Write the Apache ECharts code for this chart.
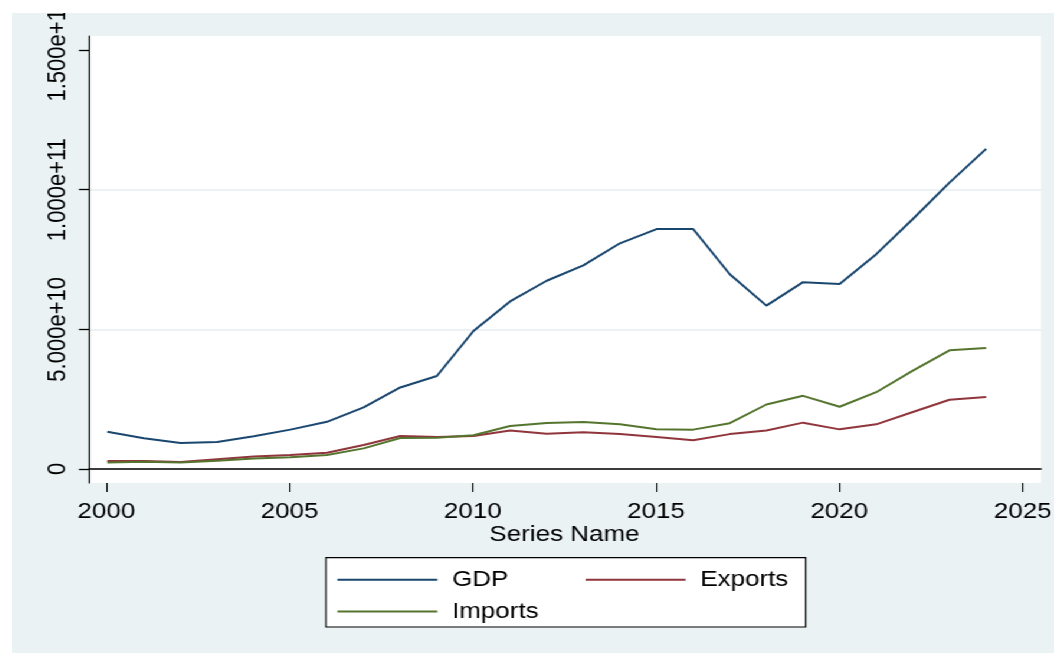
<!DOCTYPE html>
<html>
<head>
<meta charset="utf-8">
<script src="https://cdn.jsdelivr.net/npm/echarts@6/dist/echarts.min.js"></script>
<style>
  html, body { margin: 0; padding: 0; background: #ffffff; width: 1054px; height: 653px; overflow: hidden; }
  #chart { position: absolute; left: 12px; top: 13px; width: 883px; height: 640px;
           transform: scaleX(1.18007); transform-origin: 0 0; background: #EAF2F3; }
</style>
</head>
<body>
<div id="chart"></div>
<script>
// ---- data ----
var years = [2000, 2001, 2002, 2003, 2004, 2005, 2006, 2007, 2008, 2009, 2010, 2011, 2012,
             2013, 2014, 2015, 2016, 2017, 2018, 2019, 2020, 2021, 2022, 2023, 2024];
var gdp = [1.335e10, 1.10e10, 0.93e10, 0.97e10, 1.17e10, 1.41e10, 1.69e10, 2.21e10, 2.92e10, 3.33e10,
           4.94e10, 6.00e10, 6.74e10, 7.29e10, 8.08e10, 8.59e10, 8.59e10, 6.97e10, 5.85e10, 6.69e10,
           6.62e10, 7.69e10, 8.95e10, 1.025e11, 1.146e11];
var exportsV = [0.29e10, 0.29e10, 0.25e10, 0.35e10, 0.45e10, 0.50e10, 0.58e10, 0.86e10, 1.18e10, 1.15e10,
                1.18e10, 1.38e10, 1.26e10, 1.32e10, 1.25e10, 1.15e10, 1.03e10, 1.25e10, 1.38e10, 1.66e10,
                1.42e10, 1.60e10, 2.04e10, 2.48e10, 2.58e10];
var importsV = [0.23e10, 0.26e10, 0.23e10, 0.30e10, 0.38e10, 0.42e10, 0.50e10, 0.74e10, 1.11e10, 1.12e10,
                1.21e10, 1.54e10, 1.65e10, 1.68e10, 1.60e10, 1.42e10, 1.41e10, 1.64e10, 2.31e10, 2.62e10,
                2.23e10, 2.75e10, 3.52e10, 4.25e10, 4.33e10];
var seriesNames = ['GDP', 'Exports', 'Imports'];
var yTickValues = [0, 5e10, 1e11, 1.5e11];
var yTickLabels = ['0', '5.000e+10', '1.000e+11', '1.500e+11'];
var xTickValues = [2000, 2005, 2010, 2015, 2020, 2025];
var xAxisTitle = 'Series Name';

function pairs(vals) { return years.map(function (y, i) { return [y, vals[i]]; }); }

var FONT = '"Liberation Sans", Arial, Helvetica, sans-serif';
var colors = ['#1A476F', '#90353B', '#55752F'];

var chart = echarts.init(document.getElementById('chart'), null, { renderer: 'canvas' });
var option = {
  animation: false,
  backgroundColor: 'transparent',
  textStyle: { fontFamily: FONT },
  grid: [
    // data grid (plot region)
    { left: 65.25, right: 11, top: 23, bottom: 170, show: true, backgroundColor: '#ffffff', borderWidth: 0,
      containLabel: false, outerBoundsMode: 'none' },
    // y tick grid
    { left: 65.25, right: 11, top: 37, bottom: 184, show: false, containLabel: false, outerBoundsMode: 'none' },
    // x tick grid
    { left: 79.9, right: 26.6, top: 23, bottom: 170, show: false, containLabel: false, outerBoundsMode: 'none' }
  ],
  xAxis: [
    { gridIndex: 0, type: 'value', min: 1999.5, max: 2025.5,
      axisLine: { show: true, lineStyle: { color: '#000', width: 1.5 } },
      axisTick: { show: false }, axisLabel: { show: false }, splitLine: { show: false } },
    { gridIndex: 1, type: 'value', min: 2000, max: 2025, show: false },
    { gridIndex: 2, type: 'value', min: xTickValues[0], max: xTickValues[xTickValues.length - 1], interval: 5,
      axisLine: { show: false },
      axisTick: { show: true, length: 9, lineStyle: { color: '#000', width: 1.1 } },
      axisLabel: { show: true, margin: 18, fontSize: 22, color: '#000', fontFamily: FONT,
                   formatter: function (v) { return String(v); } },
      splitLine: { show: false },
      name: xAxisTitle, nameLocation: 'middle', nameGap: 41, nameMoveOverlap: false,
      nameTextStyle: { fontSize: 22, color: '#000', fontFamily: FONT } }
  ],
  yAxis: [
    { gridIndex: 0, type: 'value', min: -5e9, max: 1.55e11,
      axisLine: { show: true, lineStyle: { color: '#000', width: 1.2 } },
      axisTick: { show: false }, axisLabel: { show: false }, splitLine: { show: false } },
    { gridIndex: 1, type: 'value', min: yTickValues[0], max: yTickValues[yTickValues.length - 1], interval: 5e10,
      axisLine: { show: false },
      axisTick: { show: true, length: 8.5, lineStyle: { color: '#000', width: 1.3 } },
      axisLabel: { show: true, rotate: 90, margin: 15, fontSize: 22, color: '#000', fontFamily: FONT,
                   formatter: function (v) {
                     var i = yTickValues.indexOf(v);
                     return i >= 0 ? yTickLabels[i] : '';
                   } },
      splitLine: { show: true, lineStyle: { color: ['#E6EEF0', '#E6EEF0', '#E6EEF0', 'rgba(0,0,0,0)'], width: 1.5 } } },
    { gridIndex: 2, type: 'value', min: 0, max: 1, show: false }
  ],
  legend: [
    { data: [seriesNames[0], seriesNames[1]], orient: 'horizontal', icon: 'rect',
      left: 266.1, top: 544.7, padding: [11, 14.7, 36.3, 9.6],
      backgroundColor: '#ffffff', borderColor: '#000', borderWidth: 1.2, borderRadius: 0,
      itemWidth: 84.7, itemHeight: 2, itemGap: 65.5,
      textStyle: { fontSize: 22, color: '#000', fontFamily: FONT, padding: [0, 0, 0, 7.5] } },
    { data: [seriesNames[2]], orient: 'horizontal', icon: 'rect',
      left: 275.7, top: 587.5, padding: 0, z: 5,
      itemWidth: 84.7, itemHeight: 2,
      textStyle: { fontSize: 22, color: '#000', fontFamily: FONT, padding: [0, 0, 0, 7.5] } }
  ],
  series: [
    { name: seriesNames[0], type: 'line', xAxisIndex: 0, yAxisIndex: 0, data: pairs(gdp),
      symbol: 'none', lineStyle: { color: colors[0], width: 2 }, itemStyle: { color: colors[0] } },
    { name: seriesNames[1], type: 'line', xAxisIndex: 0, yAxisIndex: 0, data: pairs(exportsV),
      symbol: 'none', lineStyle: { color: colors[1], width: 2 }, itemStyle: { color: colors[1] } },
    { name: seriesNames[2], type: 'line', xAxisIndex: 0, yAxisIndex: 0, data: pairs(importsV),
      symbol: 'none', lineStyle: { color: colors[2], width: 2 }, itemStyle: { color: colors[2] } }
  ]
};
chart.setOption(option);
</script>
</body>
</html>
